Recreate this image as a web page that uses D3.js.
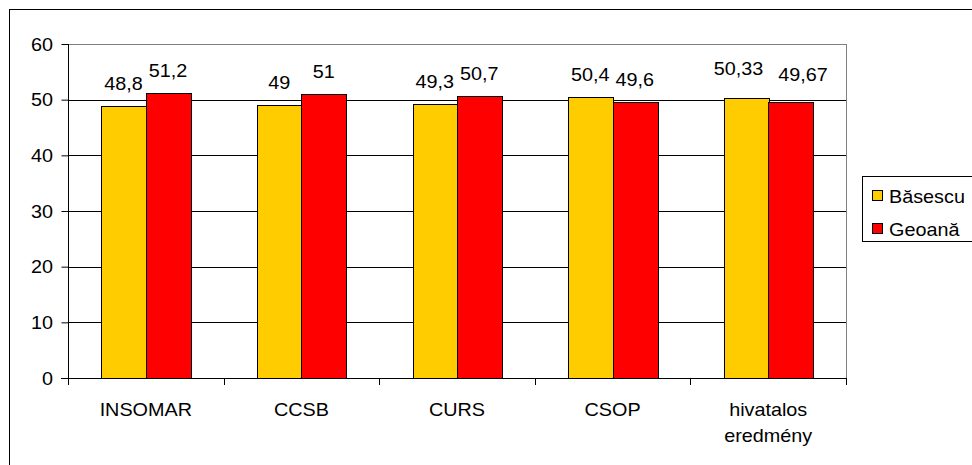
<!DOCTYPE html>
<html><head><meta charset="utf-8">
<script src="https://cdn.jsdelivr.net/npm/d3@7"></script>
<style>body{margin:0;background:#fff}svg{display:block;font-family:"Liberation Sans",Arial,sans-serif}</style>
</head><body><svg id="c" width="972" height="465"></svg>
<script>
const categories = ["INSOMAR","CCSB","CURS","CSOP","hivatalos eredmény"];
const seriesNames = ["Băsescu","Geoană"];
const basescu = [48.8,49,49.3,50.4,50.33];
const geoana = [51.2,51,50.7,49.6,49.67];
const basescuLabels = ["48,8","49","49,3","50,4","50,33"];
const geoanaLabels = ["51,2","51","50,7","49,6","49,67"];
const yTicks = [0,10,20,30,40,50,60];
const colors = ["#FFCC00","#FF0000"];

const FS = 18, SX = 1.1;
function txt(parent, x, y, s, anchor){
  return parent.append("text").attr("transform",`translate(${x},${y}) scale(${SX},1)`)
    .attr("text-anchor",anchor||"start").attr("font-size",FS).attr("fill","#000").text(s);
}

const svg = d3.select("#c");
svg.append("rect").attr("x",9.5).attr("y",9.5).attr("width",1000).attr("height",1000).attr("fill","#fff").attr("stroke","#000");
const L=68,R=846,T=44,B=378;
const x = d3.scaleBand().domain(categories).range([L,R]);
const y = d3.scaleLinear().domain([0,60]).range([B,T]);
const g = svg.append("g");
g.selectAll(".grid").data(yTicks.filter(d=>d>0&&d<60)).enter().append("line")
 .attr("x1",L).attr("x2",R).attr("y1",d=>Math.round(y(d))+0.5).attr("y2",d=>Math.round(y(d))+0.5).attr("stroke","#000");
g.append("line").attr("x1",L).attr("x2",R).attr("y1",T+0.5).attr("y2",T+0.5).attr("stroke","#808080");
g.append("line").attr("x1",R+0.5).attr("x2",R+0.5).attr("y1",T).attr("y2",B).attr("stroke","#808080");
const bw = 44.5;
const data = categories.map((c,i)=>({c,vals:[basescu[i],geoana[i]],labs:[basescuLabels[i],geoanaLabels[i]]}));
data.forEach(d=>{
  const cx = x(d.c)+x.bandwidth()/2;
  // simple collision avoidance for wide labels (as the original chart does)
  const crowded = d.labs[0].length + d.labs[1].length > 9;
  d.vals.forEach((v,j)=>{
    const x0 = cx - bw + j*bw;
    g.append("rect").attr("x",Math.round(x0)+0.5).attr("y",Math.round(y(v))+0.5)
      .attr("width",Math.round(bw)).attr("height",Math.round(y(0))-Math.round(y(v)))
      .attr("fill",colors[j]).attr("stroke","#000").attr("stroke-width",1);
    const dx = crowded ? (j===0 ? -7.5 : 12.5) : 0;
    const dy = crowded ? (j===0 ? 7 : 5) : 0;
    txt(g, x0+bw/2+dx, y(v)-16-dy, d.labs[j], "middle");
  });
});
const yAxis = d3.axisLeft(y).tickValues(yTicks).tickSize(7).tickFormat("");
const ya = svg.append("g").attr("transform",`translate(${L+0.5},0)`).call(yAxis);
ya.select(".domain").attr("d",`M0,${T}V${B}`).attr("stroke","#000");
ya.selectAll(".tick line").attr("stroke","#000");
yTicks.forEach(t=>txt(svg, 53, y(t)+6.5, String(t), "end"));
const xTicks = categories.map(c=>x(c)).concat([R]);
const xa = svg.append("g");
xa.append("line").attr("x1",L-7).attr("x2",R).attr("y1",B+0.5).attr("y2",B+0.5).attr("stroke","#000");
xa.selectAll(".xt").data(xTicks).enter().append("line").attr("x1",d=>Math.round(d)+0.5).attr("x2",d=>Math.round(d)+0.5)
  .attr("y1",B).attr("y2",B+7).attr("stroke","#000");
categories.forEach(c=>{
  const words = c==="hivatalos eredmény" ? ["hivatalos","eredmény"] : [c];
  words.forEach((w,i)=>txt(xa, x(c)+x.bandwidth()/2, 416 + i*25.5, w, "middle"));
});
const lg = svg.append("g");
lg.append("rect").attr("x",862.5).attr("y",176.5).attr("width",120).attr("height",65).attr("fill","#fff").attr("stroke","#000");
seriesNames.forEach((s,i)=>{
  const yy = 196 + i*33;
  lg.append("rect").attr("x",872.5).attr("y",yy-5.5).attr("width",10).attr("height",10).attr("fill",colors[i]).attr("stroke","#000");
  txt(lg, 889, yy+6.5, s, "start");
});
</script></body></html>
